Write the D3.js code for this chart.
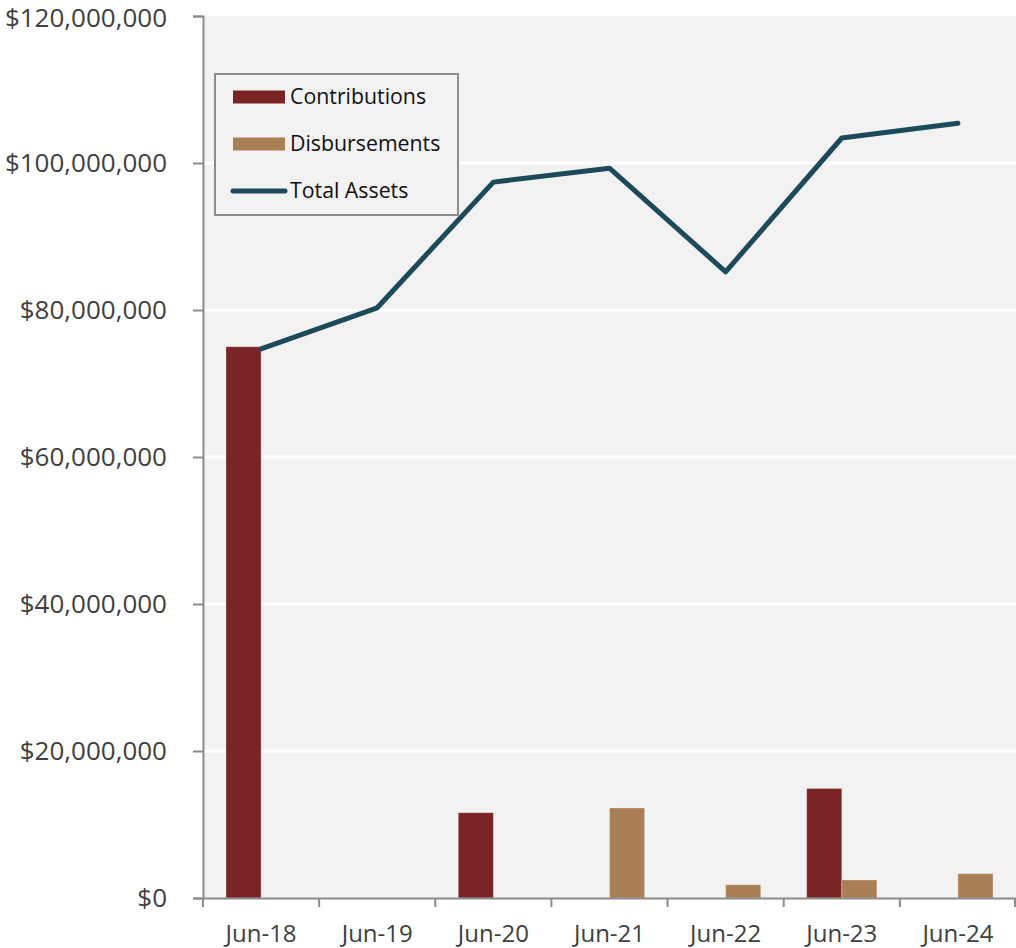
<!DOCTYPE html>
<html>
<head>
<meta charset="utf-8">
<script src="https://cdn.jsdelivr.net/npm/d3@7"></script>
<style>
  html, body { margin: 0; padding: 0; background: #ffffff; }
  svg { display: block; font-family: "Open Sans", "Noto Sans", sans-serif; }
</style>
</head>
<body>
<svg id="chart" width="1016" height="948"></svg>
<script>
// Fiscal year-end labels
const categories = ["Jun-18", "Jun-19", "Jun-20", "Jun-21", "Jun-22", "Jun-23", "Jun-24"];
// Annual contributions (dollars)
const contributions = [75000000, 0, 11600000, 0, 0, 14900000, 0];
// Annual disbursements (dollars)
const disbursements = [0, 0, 0, 12250000, 1800000, 2450000, 3300000];
// Total assets at year end (dollars)
const totalAssets = [74700000, 80300000, 97400000, 99300000, 85200000, 103400000, 105400000];
// Y-axis tick values
const yTicks = [0, 20000000, 40000000, 60000000, 80000000, 100000000, 120000000];

const seriesNames = ["Contributions", "Disbursements", "Total Assets"];
const colors = { Contributions: "#7b2426", Disbursements: "#a97f55", "Total Assets": "#1c4a5b" };

const svg = d3.select("#chart");
const margin = { top: 16, right: 0, bottom: 50, left: 203 };
const W = 1016, H = 948;
const innerW = W - margin.left - margin.right;
const innerH = H - margin.top - margin.bottom;

const g = svg.append("g").attr("transform", `translate(${margin.left},${margin.top})`);

const x = d3.scaleBand().domain(categories).range([0, innerW]).paddingInner(0).paddingOuter(0);
const barGroup = d3.scaleBand().domain(["Contributions", "Disbursements"])
  .range([0, x.bandwidth()]).paddingOuter(0.655).paddingInner(0);
const y = d3.scaleLinear().domain([0, 120000000]).range([innerH, 0]);

// plot background
g.append("rect").attr("x", 0).attr("y", 0).attr("width", innerW).attr("height", innerH)
  .attr("fill", "#f2f2f2");

// horizontal gridlines
g.selectAll("line.grid").data(yTicks.filter(d => d > 0 && d < 120000000)).enter()
  .append("line").attr("class", "grid")
  .attr("x1", 0).attr("x2", innerW)
  .attr("y1", d => y(d)).attr("y2", d => y(d))
  .attr("stroke", "#ffffff").attr("stroke-width", 3);

// bars
const barData = [];
categories.forEach((c, i) => {
  barData.push({ cat: c, key: "Contributions", value: contributions[i] });
  barData.push({ cat: c, key: "Disbursements", value: disbursements[i] });
});
g.selectAll("rect.bar").data(barData.filter(d => d.value > 0)).enter()
  .append("rect").attr("class", "bar")
  .attr("x", d => x(d.cat) + barGroup(d.key))
  .attr("width", barGroup.bandwidth())
  .attr("y", d => y(d.value))
  .attr("height", d => y(0) - y(d.value))
  .attr("fill", d => colors[d.key])
  .attr("stroke", "rgba(255,255,255,0.35)").attr("stroke-width", 0.8);

// total assets line
const line = d3.line()
  .x((d, i) => x(categories[i]) + x.bandwidth() / 2)
  .y(d => y(d));
g.append("path").datum(totalAssets)
  .attr("d", line)
  .attr("fill", "none")
  .attr("stroke", colors["Total Assets"])
  .attr("stroke-width", 5)
  .attr("stroke-linecap", "round")
  .attr("stroke-linejoin", "round");

// y axis
const fmt = d => "$" + d3.format(",")(d);
const yAxis = g.append("g").call(
  d3.axisLeft(y).tickValues(yTicks).tickFormat(fmt).tickSize(10).tickPadding(26)
);
yAxis.select(".domain").attr("stroke", "#8c8c8c").attr("stroke-width", 2);
yAxis.selectAll(".tick line").attr("stroke", "#8c8c8c").attr("stroke-width", 2);
yAxis.selectAll(".tick text").attr("fill", "#404040").style("font-size", "26px")
  .style("font-family", "'Open Sans', sans-serif");
// keep the topmost label inside the canvas
yAxis.selectAll(".tick text").filter(d => d === 120000000).attr("dy", "0.40em");

// x axis
const xAxis = g.append("g").attr("transform", `translate(0,${innerH})`)
  .call(d3.axisBottom(x).tickSize(0).tickPadding(27));
xAxis.select(".domain").attr("stroke", "#8c8c8c").attr("stroke-width", 2);
xAxis.selectAll(".tick text").attr("fill", "#404040").style("font-size", "24px")
  .style("font-family", "'Open Sans', sans-serif");
// tick marks at category boundaries
const bounds = categories.map(c => x(c)).concat([innerW - 1]);
xAxis.selectAll("line.bound").data(bounds).enter()
  .append("line").attr("class", "bound")
  .attr("x1", d => d).attr("x2", d => d)
  .attr("y1", 0).attr("y2", 9)
  .attr("stroke", "#8c8c8c").attr("stroke-width", 2);

// legend
const legend = svg.append("g").attr("transform", "translate(215,74)");
legend.append("rect").attr("x", 0).attr("y", 0).attr("width", 243).attr("height", 141)
  .attr("fill", "#f2f2f2").attr("stroke", "#8c8c8c").attr("stroke-width", 2);
const rowY = [23, 70, 117];
seriesNames.forEach((name, i) => {
  const row = legend.append("g").attr("transform", `translate(0,${rowY[i]})`);
  if (name === "Total Assets") {
    row.append("line").attr("x1", 18).attr("x2", 70).attr("y1", 0).attr("y2", 0)
      .attr("stroke", colors[name]).attr("stroke-width", 5).attr("stroke-linecap", "round");
  } else {
    row.append("rect").attr("x", 18).attr("y", -6.5).attr("width", 52).attr("height", 13)
      .attr("fill", colors[name]);
  }
  row.append("text").attr("x", 75).attr("y", 0).attr("dy", "0.35em")
    .attr("fill", "#111111").style("font-size", "21.3px").text(name);
});
</script>
</body>
</html>
